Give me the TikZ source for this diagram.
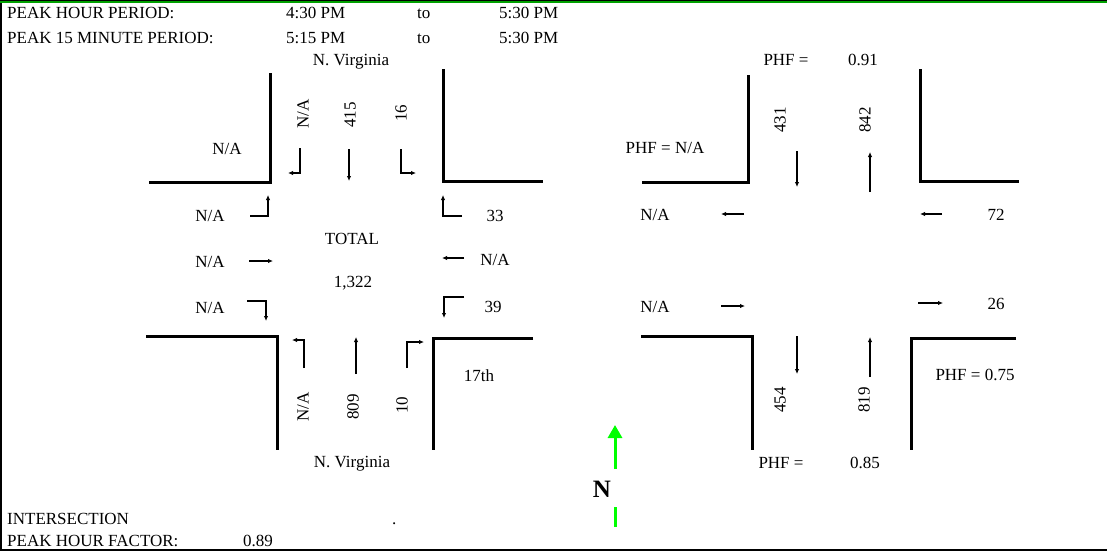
\documentclass[tikz,border=0pt]{standalone}
\usepackage{fontspec}
\setmainfont{Liberation Serif}
\usetikzlibrary{arrows.meta}
\begin{document}
\begin{tikzpicture}[x=1pt,y=-1pt,
  txt/.style={inner sep=0pt,anchor=base,font=\fontsize{17}{20}\selectfont},
  txtw/.style={txt,anchor=base west},
  rot/.style={inner sep=0pt,anchor=center,rotate=90,font=\fontsize{17}{20}\selectfont},
  road/.style={line width=3pt},
  mv/.style={line width=1.3pt,-{Latex[length=5pt,width=4.5pt]}},
  greenarrow/.style={line width=3pt,draw={rgb,255:red,0;green,255;blue,0}}]
\useasboundingbox (0,0) rectangle (1107,551);
% frame
\draw[line width=2pt] (1,0) -- (1,551);
\draw[line width=2pt] (0,550) -- (1107,550);
\draw[line width=1.2pt] (0,0.6) -- (1107,0.6);
\draw[line width=1.4pt,draw={rgb,255:red,0;green,160;blue,0}] (0,2) -- (1107,2);
% header
\node[txtw] (h1) at (7,19) {PEAK HOUR PERIOD:};
\node[txtw] (h1a) at (286,19) {4:30 PM};
\node[txtw] (h1b) at (417,19) {to};
\node[txtw] (h1c) at (499,19) {5:30 PM};
\node[txtw] (h2) at (7,44) {PEAK 15 MINUTE PERIOD:};
\node[txtw] (h2a) at (286,44) {5:15 PM};
\node[txtw] (h2b) at (417,44) {to};
\node[txtw] (h2c) at (499,44) {5:30 PM};
% footer
\node[txtw] (f1) at (7,524) {INTERSECTION};
\node[txtw] (f1d) at (392,524) {.};
\node[txtw] (f2) at (7,546) {PEAK HOUR FACTOR:};
\node[txtw] (f2a) at (243,546) {0.89};
% ===== left intersection roads
\draw[road] (270,73) -- (270,182) -- (149,182);
\draw[road] (443,69) -- (443,181) -- (543,181);
\draw[road] (146,336) -- (277,336) -- (277,450);
\draw[road] (533,338) -- (433,338) -- (433,450);
% labels
\node[txt] (nvt) at (351,65) {N. Virginia};
\node[txt] (nvb) at (352,467) {N. Virginia};
\node[txt] (nwna) at (227,154) {N/A};
\node[txt] (st) at (479,381) {17th};
\node[txt] (tot) at (352,244) {TOTAL};
\node[txt] (totv) at (353,287) {1,322};
\node[rot] (sbr) at (303,114) {N/A};
\node[rot] (sbt) at (350,115) {415};
\node[rot] (sbl) at (401,113) {16};
\node[rot] (nbl) at (303,407) {N/A};
\node[rot] (nbt) at (353,407) {809};
\node[rot] (nbr) at (402,405) {10};
\node[txt] (ebl) at (210,221) {N/A};
\node[txt] (ebt) at (210,267) {N/A};
\node[txt] (ebr) at (210,313) {N/A};
\node[txt] (wbr) at (495,221) {33};
\node[txt] (wbt) at (495,265) {N/A};
\node[txt] (wbl) at (493,312) {39};
% movement arrows
\draw[mv] (300,148) -- (300,173) -- (288,173);
\draw[mv] (349,149) -- (349,181);
\draw[mv] (401,149) -- (401,173) -- (416,173);
\draw[mv] (250,216) -- (268,216) -- (268,195);
\draw[mv] (249,261) -- (273,261);
\draw[mv] (247,301) -- (266,301) -- (266,321);
\draw[mv] (462,216) -- (443,216) -- (443,195);
\draw[mv] (464,258) -- (442,258);
\draw[mv] (464,297) -- (444,297) -- (444,318);
\draw[mv] (304,368) -- (304,340) -- (292,340);
\draw[mv] (356,374) -- (356,337);
\draw[mv] (407,368) -- (407,342) -- (424,342);
% ===== right intersection roads
\draw[road] (748,75) -- (748,182) -- (642,182);
\draw[road] (920,69) -- (920,181) -- (1019,181);
\draw[road] (641,336) -- (752,336) -- (752,450);
\draw[road] (1016,338) -- (911,338) -- (911,450);
% labels
\node[txt] (phfn) at (786,65) {PHF =};
\node[txt] (phfnv) at (863,65) {0.91};
\node[txt] (phfw) at (665,153) {PHF = N/A};
\node[txt] (phfe) at (975,380) {PHF = 0.75};
\node[txt] (phfs) at (781,468) {PHF =};
\node[txt] (phfsv) at (865,468) {0.85};
\node[rot] (r431) at (780,120) {431};
\node[rot] (r842) at (865,120) {842};
\node[rot] (r454) at (780,400) {454};
\node[rot] (r819) at (864,400) {819};
\node[txt] (rwo) at (655,220) {N/A};
\node[txt] (r72) at (996,220) {72};
\node[txt] (rwi) at (655,312) {N/A};
\node[txt] (r26) at (996,309) {26};
\draw[mv] (797,151) -- (797,187);
\draw[mv] (870,192) -- (870,152);
\draw[mv] (744,214) -- (721,214);
\draw[mv] (942,214) -- (920,214);
\draw[mv] (721,306) -- (745,306);
\draw[mv] (918,303) -- (943,303);
\draw[mv] (797,336) -- (797,374);
\draw[mv] (870,377) -- (870,337);
% ===== north arrow
\coordinate (na1) at (615,469);
\coordinate (na2) at (615,425);
\draw[greenarrow,-{Triangle[length=13pt,width=14pt]}] (na1) -- (na2);
\node[inner sep=0pt,font=\fontsize{25}{28}\selectfont\bfseries] (north) at (602,489) {N};
\coordinate (nb1) at (615,507);
\coordinate (nb2) at (615,527);
\draw[greenarrow] (nb1) -- (nb2);
\end{tikzpicture}
\end{document}
